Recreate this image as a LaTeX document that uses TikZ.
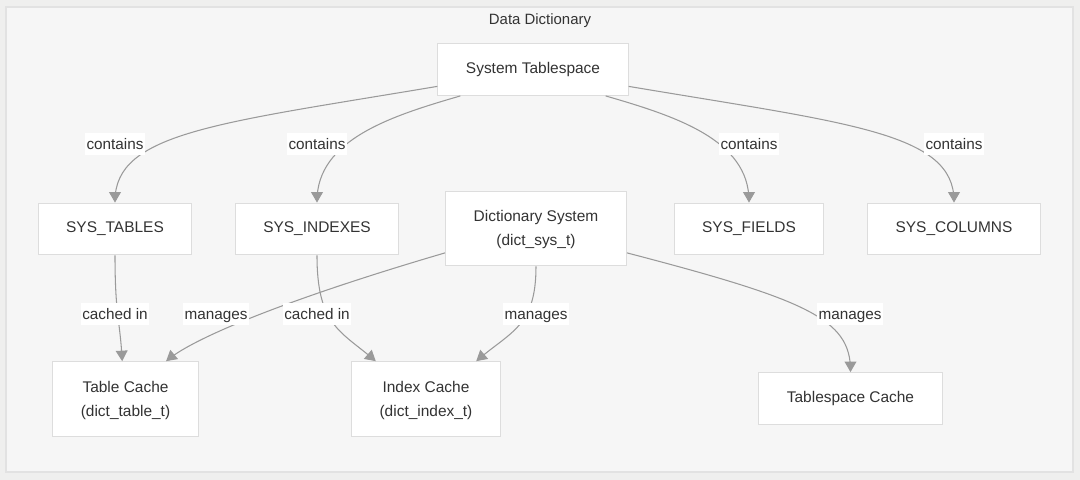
\documentclass[tikz,border=0pt]{standalone}
\usepackage{fontspec}
\setmainfont{Liberation Sans}
\usetikzlibrary{arrows}

\definecolor{pagebg}{HTML}{EFEFEE}
\definecolor{framebg}{HTML}{F6F6F6}
\definecolor{frameline}{HTML}{E2E2E2}
\definecolor{boxline}{HTML}{DDDDDD}
\definecolor{edgecol}{HTML}{9A9A9A}
\definecolor{txt}{HTML}{333333}

\tikzset{
  box/.style={draw=boxline, fill=white, line width=0.6pt, minimum height=29.5pt, inner xsep=16pt, text=txt, align=center, font=\fontsize{8.8}{13.6}\selectfont},
  tallbox/.style={box, minimum height=42.5pt},
  lbl/.style={fill=white, inner xsep=0.8pt, inner ysep=2pt, text height=7.5pt, text depth=1.5pt, text=txt, font=\fontsize{8.7}{10}\selectfont},
  link/.style={draw=edgecol, line width=0.6pt, -triangle 60}
}

\begin{document}
\begin{tikzpicture}[x=0.02cm,y=-0.02cm]

\fill[pagebg] (0,0) rectangle (1080,480);
\draw[frameline, fill=framebg, line width=0.8pt] (6,7) rectangle (1073,472);
\node[text=txt, font=\fontsize{8.5}{10}\selectfont] (title) at (540,20.5) {Data Dictionary};

\node[box] (sysTs) at (533,69.5) {System Tablespace};
\node[box] (sysTables) at (115,229) {SYS\_TABLES};
\node[box] (sysIdx) at (317,229) {SYS\_INDEXES};
\node[tallbox] (dictSys) at (536,228.5) {\rule{0pt}{8pt}Dictionary System\\(dict\_sys\_t)};
\node[box] (sysFields) at (749,229) {SYS\_FIELDS};
\node[box] (sysCols) at (954,229) {SYS\_COLUMNS};
\node[tallbox] (tableC) at (125.5,399) {\rule{0pt}{8pt}Table Cache\\(dict\_table\_t)};
\node[tallbox] (idxC) at (426,399) {\rule{0pt}{8pt}Index Cache\\(dict\_index\_t)};
\node[box] (tsCache) at (850.5,398.5) {Tablespace Cache};

\draw[link] (sysTs.190) .. controls +(-220,37) and +(0,-70) .. (sysTables.north);
\draw[link] (sysTs.200) .. controls +(-69,20) and +(0,-63) .. (sysIdx.north);
\draw[link] (sysTs.340) .. controls +(69,20) and +(0,-63) .. (sysFields.north);
\draw[link] (sysTs.350) .. controls +(220,37) and +(0,-70) .. (sysCols.north);
\draw[link] (sysTables.south) .. controls +(0,60) and +(-2,-40) .. (tableC.95);
\draw[link] (sysIdx.south) .. controls +(0,70) and +(-35,-30) .. (idxC.143);
\draw[link] (dictSys.195) .. controls +(-150,44) and +(30,-25) .. (tableC.43);
\draw[link] (dictSys.south) .. controls +(0,60) and +(35,-30) .. (idxC.37);
\draw[link] (dictSys.345) .. controls +(180,47) and +(0,-53) .. (tsCache.north);

\node[lbl] (c1) at (115,144) {contains};
\node[lbl] (c2) at (317,144) {contains};
\node[lbl] (c3) at (749,144) {contains};
\node[lbl] (c4) at (954,144) {contains};
\node[lbl] (k1) at (115,314) {cached in};
\node[lbl] (k2) at (317,314) {cached in};
\node[lbl] (m1) at (216,314) {manages};
\node[lbl] (m2) at (536,314) {manages};
\node[lbl] (m3) at (850,314) {manages};
\end{tikzpicture}
\end{document}
